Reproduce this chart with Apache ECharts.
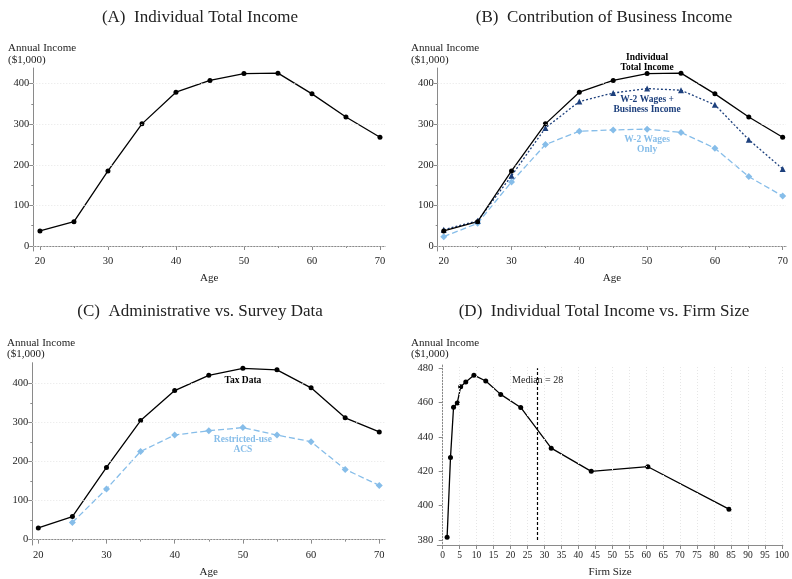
<!DOCTYPE html>
<html>
<head>
<meta charset="utf-8">
<script src="https://cdn.jsdelivr.net/npm/echarts@6/dist/echarts.min.js"></script>
<style>html,body{margin:0;padding:0;background:#fff}#c{width:792px;height:579px}</style>
</head>
<body>
<div id="c"></div>
<script>
// ---- data ----
const ages = [20, 25, 30, 35, 40, 45, 50, 55, 60, 65, 70];
const totalIncome = [37, 60, 185, 301, 379, 408, 425, 426, 375, 318, 268];
const wagesPlusBusiness = [40, 62, 173, 291, 356, 377, 388, 384, 348, 262, 190];
const wagesOnly = [23, 56, 158, 250, 283, 286, 288, 280, 241, 171, 123];
const taxData = [30, 59, 185, 305, 382, 421, 439, 435, 389, 312, 276];
const acsData = [null, 44, 130, 226, 268, 279, 287, 268, 251, 180, 139];
const firmSize = [1.3, 2.3, 3.2, 4.3, 5.3, 6.8, 9.2, 12.7, 17.1, 23.0, 32.0, 43.8, 60.5, 84.4];
const firmIncome = [381.7, 428, 457.3, 459.8, 469.3, 472, 476, 472.6, 464.8, 457.2, 433.5, 420, 422.7, 398];
const medianFirmSize = 28;

const ageTicks = [20, 30, 40, 50, 60, 70];
const ageMinorTicks = [25, 35, 45, 55, 65];
const incomeTicks = [0, 100, 200, 300, 400];
const incomeMinorTicks = [50, 150, 250, 350];
const firmTicks = [0,5,10,15,20,25,30,35,40,45,50,55,60,65,70,75,80,85,90,95,100];
const firmIncomeTicks = [380, 400, 420, 440, 460, 480];

const titles = ['(A)  Individual Total Income', '(B)  Contribution of Business Income',
                '(C)  Administrative vs. Survey Data', '(D)  Individual Total Income vs. Firm Size'];
const yTitle = 'Annual Income\n($1,000)';

// ---- styles ----
const FONT = "'Liberation Serif','Times New Roman',serif";
const AX = '#8a8a8a';
const BLACK = '#000000';
const NAVY = '#1c3f7c';
const LIGHT = '#86bde9';
const GRID = '#e6e6e6';

const pair = (xs, ys) => xs.map((x, i) => [x, ys[i]]);

function mainX(grid, min, max, ticks, name, fs) {
  return {
    type: 'value', gridIndex: grid, min: min, max: max, position: 'bottom',
    name: name, nameLocation: 'middle', nameGap: 22,
    nameTextStyle: {fontFamily: FONT, fontSize: 11, color: '#222'},
    axisLine: {show: true, lineStyle: {color: AX, width: 1}},
    axisTick: {show: true, customValues: ticks, length: 4, lineStyle: {color: AX}},
    axisLabel: {show: true, customValues: ticks, fontFamily: FONT, fontSize: fs, color: '#222', margin: 5},
    splitLine: {show: false}
  };
}
function minorX(grid, min, max, ticks) {
  return {
    type: 'value', gridIndex: grid, min: min, max: max, position: 'bottom',
    axisLine: {show: false},
    axisTick: {show: true, customValues: ticks, length: 2, lineStyle: {color: AX}},
    axisLabel: {show: false}, splitLine: {show: false}
  };
}
function mainY(grid, min, max, ticks) {
  return {
    type: 'value', gridIndex: grid, min: min, max: max, position: 'left',
    axisLine: {show: true, lineStyle: {color: AX, width: 1}},
    axisTick: {show: true, customValues: ticks, length: 4, lineStyle: {color: AX}},
    axisLabel: {show: true, customValues: ticks, fontFamily: FONT, fontSize: 10.5, color: '#222', margin: 4},
    splitLine: {show: false}
  };
}
function minorY(grid, min, max, ticks) {
  return {
    type: 'value', gridIndex: grid, min: min, max: max, position: 'left',
    axisLine: {show: false},
    axisTick: {show: true, customValues: ticks, length: 2, lineStyle: {color: AX}},
    axisLabel: {show: false}, splitLine: {show: false}
  };
}
function hGridLines(ticks) {
  return {
    silent: true, symbol: 'none', animation: false,
    lineStyle: {color: GRID, type: [1, 2], width: 1},
    label: {show: false},
    data: ticks.map(v => ({yAxis: v}))
  };
}
function vGridData(ticks) {
  return ticks.map(v => ({xAxis: v, lineStyle: {color: GRID, type: [1, 2], width: 1}}));
}
function note(coord, text, color, bold, size, offset) {
  return {
    symbol: 'circle', symbolSize: 0, silent: true, animation: false,
    data: [{coord: coord, value: text}],
    label: {show: true, position: 'inside', formatter: text, color: color,
            fontFamily: FONT, fontSize: size, fontWeight: bold ? 'bold' : 'normal',
            lineHeight: size + 0.5, align: 'center', offset: offset || [0, 0]}
  };
}
function lineSeries(xi, yi, data, color, lineType, symbol, size, extra) {
  return Object.assign({
    type: 'line', xAxisIndex: xi, yAxisIndex: yi, data: data,
    symbol: symbol, symbolSize: size, showSymbol: true,
    connectNulls: false, animation: false, clip: false,
    lineStyle: {color: color, width: 1.3, type: lineType},
    itemStyle: {color: color}, z: 3
  }, extra || {});
}

// axis ranges (extend slightly beyond first/last tick, Stata style)
const aX = [19.02, 70.74], aY = [-12.3, 438.7];
const bX = [19.11, 70.49], bY = [-12.3, 438.7];
const cX = [19.12, 70.84], cY = [-13.7, 453.3];
const dX = [-1.59, 100.29], dY = [377.13, 481.9];

const option = {
  backgroundColor: '#ffffff',
  animation: false,
  title: titles.map((t, i) => ({
    text: t, left: [195, 599, 195, 599][i], top: [4, 4, 298, 298][i], textAlign: 'center',
    textStyle: {fontFamily: FONT, fontSize: 17, fontWeight: 'normal', color: '#222'}
  })),
  graphic: [
    {type: 'text', left: 8, top: 42, style: {text: yTitle, font: '11px ' + FONT, lineHeight: 12, fill: '#222'}},
    {type: 'text', left: 411, top: 42, style: {text: yTitle, font: '11px ' + FONT, lineHeight: 12, fill: '#222'}},
    {type: 'text', left: 7, top: 337, style: {text: yTitle, font: '11px ' + FONT, lineHeight: 11.5, fill: '#222'}},
    {type: 'text', left: 411, top: 337, style: {text: yTitle, font: '11px ' + FONT, lineHeight: 11.5, fill: '#222'}}
  ],
  grid: [
    {left: 33.3, top: 68, width: 351.7, height: 183},
    {left: 437.7, top: 68, width: 348.3, height: 183},
    {left: 32.3, top: 362.7, width: 352.7, height: 184},
    {left: 437.3, top: 365, width: 346.4, height: 182.3}
  ],
  xAxis: [
    mainX(0, aX[0], aX[1], ageTicks, 'Age', 10.5), minorX(0, aX[0], aX[1], ageMinorTicks),
    mainX(1, bX[0], bX[1], ageTicks, 'Age', 10.5), minorX(1, bX[0], bX[1], ageMinorTicks),
    mainX(2, cX[0], cX[1], ageTicks, 'Age', 10.5), minorX(2, cX[0], cX[1], ageMinorTicks),
    mainX(3, dX[0], dX[1], firmTicks, 'Firm Size', 9.5)
  ],
  yAxis: [
    mainY(0, aY[0], aY[1], incomeTicks), minorY(0, aY[0], aY[1], incomeMinorTicks),
    mainY(1, bY[0], bY[1], incomeTicks), minorY(1, bY[0], bY[1], incomeMinorTicks),
    mainY(2, cY[0], cY[1], incomeTicks), minorY(2, cY[0], cY[1], incomeMinorTicks),
    mainY(3, dY[0], dY[1], firmIncomeTicks)
  ],
  series: [
    // Panel A
    lineSeries(0, 0, pair(ages, totalIncome), BLACK, 'solid', 'circle', 5, {markLine: hGridLines(incomeTicks)}),
    // Panel B
    lineSeries(2, 2, pair(ages, wagesOnly), LIGHT, [6, 3], 'diamond', 7,
      {markLine: hGridLines(incomeTicks), markPoint: note([50, 251], 'W-2 Wages\nOnly', LIGHT, true, 9.5)}),
    lineSeries(2, 2, pair(ages, wagesPlusBusiness), NAVY, [2, 2], 'triangle', 6,
      {markPoint: note([50, 348], 'W-2 Wages +\nBusiness Income', NAVY, true, 9.5)}),
    lineSeries(2, 2, pair(ages, totalIncome), BLACK, 'solid', 'circle', 5,
      {markPoint: note([50, 430], 'Individual\nTotal Income', BLACK, true, 9.5, [0, -9.3])}),
    // Panel C
    lineSeries(4, 4, pair(ages, acsData), LIGHT, [6, 3], 'diamond', 7,
      {markLine: hGridLines(incomeTicks), markPoint: note([50, 244], 'Restricted-use\nACS', LIGHT, true, 9.5)}),
    lineSeries(4, 4, pair(ages, taxData), BLACK, 'solid', 'circle', 5,
      {markPoint: note([50, 407.6], 'Tax Data', BLACK, true, 9.5)}),
    // Panel D
    lineSeries(6, 6, pair(firmSize, firmIncome), BLACK, 'solid', 'circle', 5, {
      markPoint: note([medianFirmSize, 473], 'Median = ' + medianFirmSize, '#222', false, 10),
      markLine: {
        silent: true, symbol: 'none', animation: false, label: {show: false},
        data: vGridData(firmTicks).concat([[
          {coord: [medianFirmSize, 380], lineStyle: {color: BLACK, type: [3, 2], width: 1.2}},
          {coord: [medianFirmSize, 480]}
        ]])
      }
    })
  ]
};

const chart = echarts.init(document.getElementById('c'), null, {renderer: 'canvas'});
chart.setOption(option);
</script>
</body>
</html>
